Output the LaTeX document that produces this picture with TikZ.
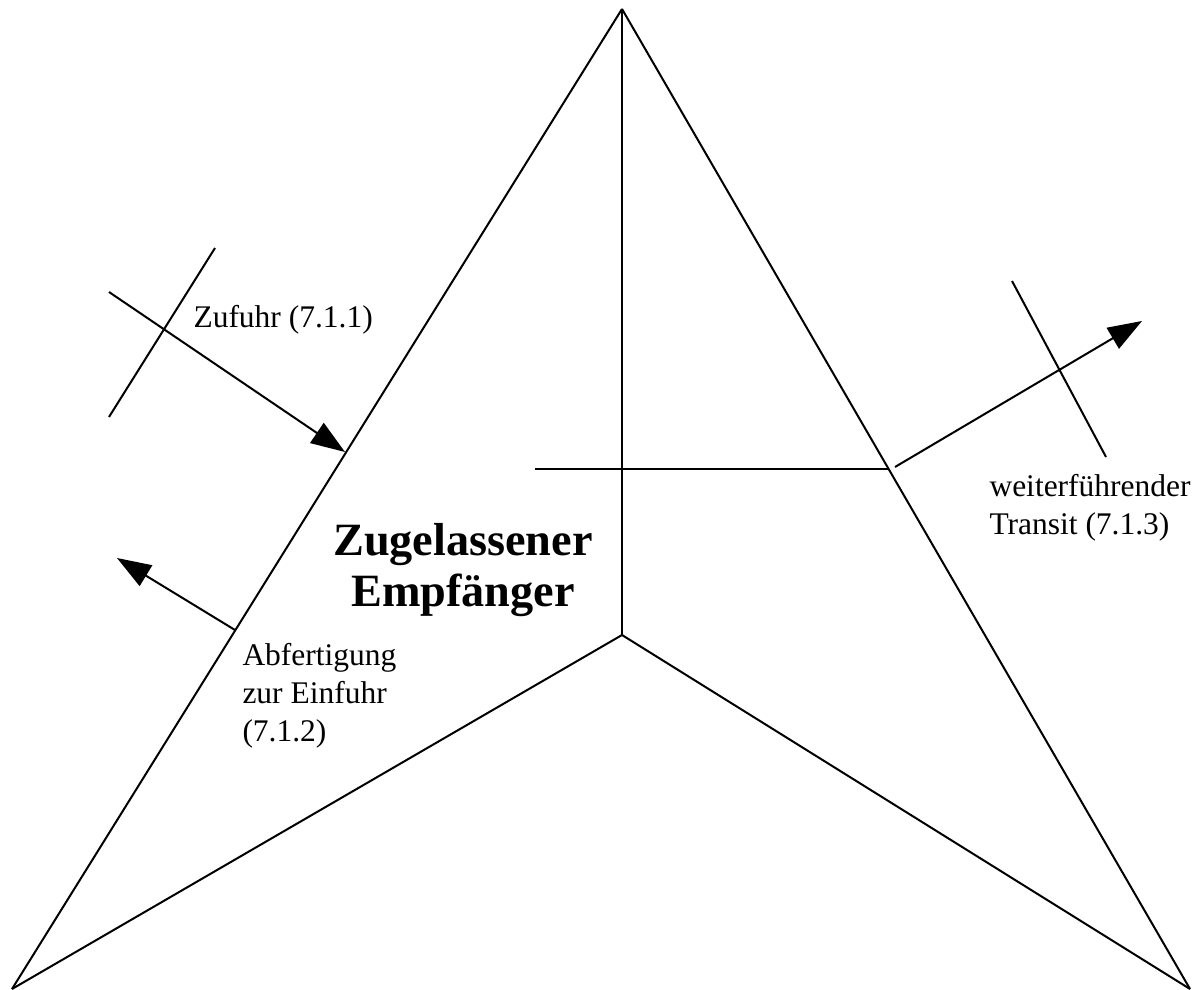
\documentclass[tikz,border=0pt]{standalone}
\usepackage{fontspec}
\setmainfont{Liberation Serif}
\usetikzlibrary{arrows.meta}
\usetikzlibrary{positioning}

\begin{document}
\begin{tikzpicture}[x=0.4pt,y=-0.4pt]
	\tikzstyle{kante}=[-,line width=0.8pt]
	\tikzset{pfeil/.style={-{Triangle[length=13.6pt,width=9.6pt]},line width=0.8pt},beschrift/.style={inner sep=0pt,align=left,font=\fontsize{12.6}{15.2}\selectfont}}
	\useasboundingbox (0,0) rectangle (1204,990);
	\coordinate (s0) at (622,9);
	\coordinate (s1) at (12,989);
	\coordinate (s2) at (1190,989);
	\coordinate (m0) at (622,635);
	\coordinate (h1) at (535,469);
	\coordinate (h2) at (889,469);
	\coordinate (z0) at (109,292);
	\coordinate (z1) at (345,452);
	\coordinate (zs1) at (215,248);
	\coordinate (zs2) at (109,417);
	\coordinate (a0) at (235,630);
	\coordinate (a1) at (117,558);
	\coordinate (w0) at (895,467);
	\coordinate (w1) at (1142,321);
	\coordinate (ws1) at (1012,281);
	\coordinate (ws2) at (1106,457);
	\draw[kante] (s0) -- (s1);
	\draw[kante] (s0) -- (s2);
	\draw[kante] (s1) -- (m0);
	\draw[kante] (s2) -- (m0);
	\draw[kante] (s0) -- (m0);
	\draw[kante] (h1) -- (h2);
	\draw[pfeil] (z0) -- (z1);
	\draw[kante] (zs1) -- (zs2);
	\draw[pfeil] (a0) -- (a1);
	\draw[pfeil] (w0) -- (w1);
	\draw[kante] (ws1) -- (ws2);
	% base = Grundlinie der letzten Zeile
	\node[beschrift,anchor=base west] (zufuhr) at (193,328) {Zufuhr (7.1.1)};
	\node[beschrift,anchor=base west] (einfuhr) at (242,741) {Abfertigung\\zur Einfuhr\\(7.1.2)};
	\node[beschrift,anchor=base west] (transit) at (989,535) {weiterführender\\Transit (7.1.3)};
	\node[inner sep=0pt,align=center,anchor=base,font=\bfseries\fontsize{18.5}{20}\selectfont] (empf) at (463,606) {Zugelassener\\Empfänger};
\end{tikzpicture}
\end{document}
